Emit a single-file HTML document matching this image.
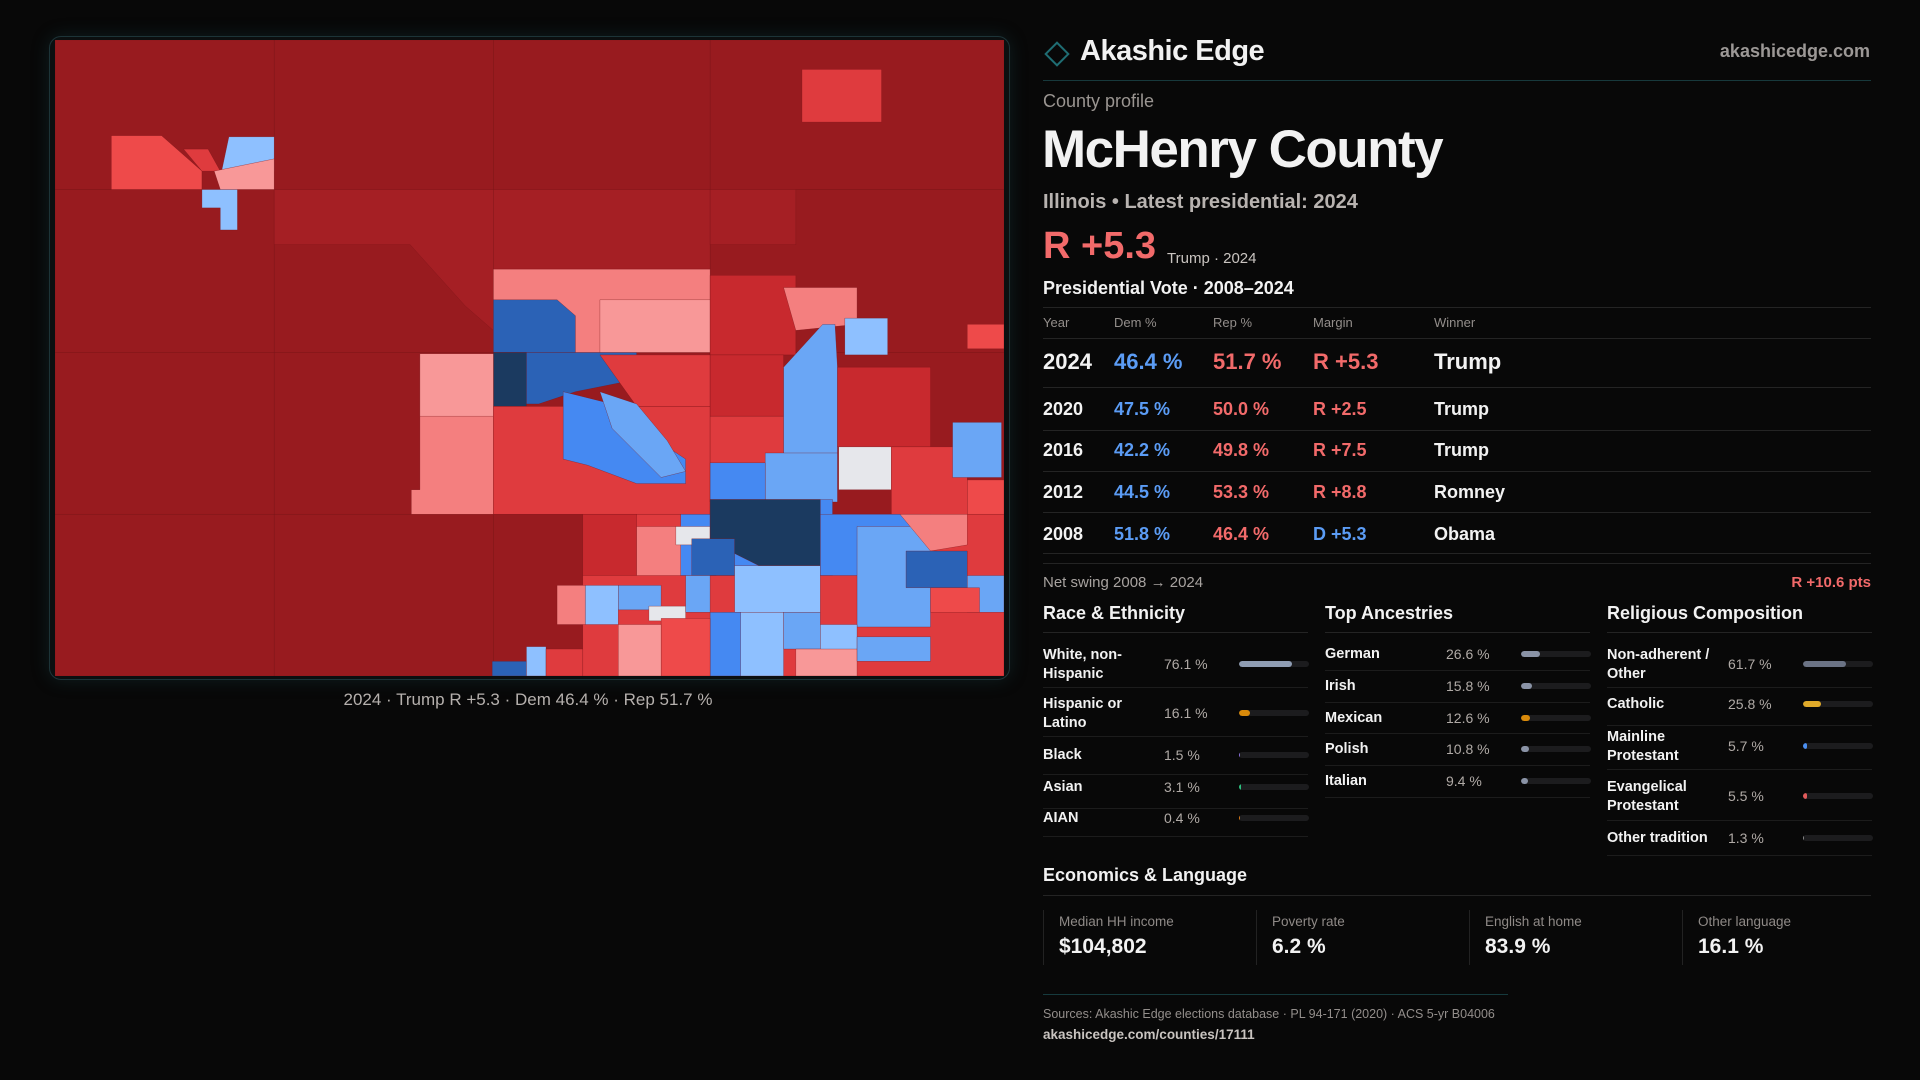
<!DOCTYPE html>
<html><head><meta charset="utf-8">
<style>
*{margin:0;padding:0;box-sizing:border-box}
body{width:1920px;height:1080px;background:#080808;font-family:"Liberation Sans",sans-serif;color:#f2f2f2;position:relative;overflow:hidden}
.a{position:absolute;white-space:nowrap}
.hl{position:absolute;height:1px;background:#242424}
.mut{color:#a8a3a0}
.blue{color:#5b9cf5}.red{color:#f26a6a}
.row{position:absolute;left:1043px;width:828px}
.row span{position:absolute;top:0}
</style></head><body>
<div class="a" style="left:49px;top:36px;width:961px;height:644px;border:1px solid #1d3438;border-radius:12px;box-shadow:0 0 18px rgba(30,90,100,0.25);overflow:hidden;background:#0b0f10">
<svg width="949" height="636" viewBox="45 33 775 519" preserveAspectRatio="none" style="position:absolute;left:5px;top:3px">
<g id="mapg" stroke="#7a1418" stroke-width="0.25"></g>
</svg>
</div>
<div class="a mut" style="left:0;width:1056px;text-align:center;top:690px;font-size:17px;color:#b5b0ad">2024 · Trump R +5.3 · Dem 46.4 % · Rep 51.7 %</div>

<svg class="a" style="left:1043px;top:40px" width="28" height="28" viewBox="0 0 28 28"><rect x="6" y="6" width="16" height="16" transform="rotate(45 14 14)" fill="none" stroke="#1f6d73" stroke-width="2"/></svg>
<div class="a" style="left:1080px;top:35px;font-size:29px;font-weight:bold;letter-spacing:-0.5px">Akashic Edge</div>
<div class="a mut" style="right:50px;top:41px;font-size:18px;font-weight:bold;color:#9c9896">akashicedge.com</div>
<div class="hl" style="left:1043px;width:828px;top:80px;background:#17393c"></div>
<div class="a mut" style="left:1043px;top:91px;font-size:18px;color:#9a9591">County profile</div>
<div class="a" style="left:1042px;top:119px;font-size:53px;font-weight:bold;letter-spacing:-1.5px">McHenry County</div>
<div class="a" style="left:1043px;top:191px;font-size:20px;font-weight:bold;color:#b8b3b0">Illinois • Latest presidential: 2024</div>
<div class="a red" style="left:1043px;top:225px;font-size:38px;font-weight:bold">R +5.3</div>
<div class="a" style="left:1167px;top:250px;font-size:15px;color:#c9c4c0">Trump · 2024</div>
<div class="a" style="left:1043px;top:278px;font-size:18px;font-weight:bold">Presidential Vote · 2008–2024</div>
<div class="hl" style="left:1043px;width:828px;top:307px"></div>
<div class="row" style="top:315px;font-size:13px;color:#938e8b"><span style="left:0">Year</span><span style="left:71px">Dem %</span><span style="left:170px">Rep %</span><span style="left:270px">Margin</span><span style="left:391px">Winner</span></div>
<div class="hl" style="left:1043px;width:828px;top:338px"></div>
<div class="row" style="top:349px;font-size:22px;font-weight:bold"><span style="left:0">2024</span><span class="blue" style="left:71px">46.4 %</span><span class="red" style="left:170px">51.7 %</span><span class="red" style="left:270px">R +5.3</span><span style="left:391px">Trump</span></div>
<div class="hl" style="left:1043px;width:828px;top:387px"></div>
<div class="row" style="top:399px;font-size:18px;font-weight:bold"><span style="left:0">2020</span><span class="blue" style="left:71px">47.5 %</span><span class="red" style="left:170px">50.0 %</span><span class="red" style="left:270px">R +2.5</span><span style="left:391px">Trump</span></div>
<div class="hl" style="left:1043px;width:828px;top:430px"></div>
<div class="row" style="top:440px;font-size:18px;font-weight:bold"><span style="left:0">2016</span><span class="blue" style="left:71px">42.2 %</span><span class="red" style="left:170px">49.8 %</span><span class="red" style="left:270px">R +7.5</span><span style="left:391px">Trump</span></div>
<div class="hl" style="left:1043px;width:828px;top:471px"></div>
<div class="row" style="top:482px;font-size:18px;font-weight:bold"><span style="left:0">2012</span><span class="blue" style="left:71px">44.5 %</span><span class="red" style="left:170px">53.3 %</span><span class="red" style="left:270px">R +8.8</span><span style="left:391px">Romney</span></div>
<div class="hl" style="left:1043px;width:828px;top:512px"></div>
<div class="row" style="top:524px;font-size:18px;font-weight:bold"><span style="left:0">2008</span><span class="blue" style="left:71px">51.8 %</span><span class="red" style="left:170px">46.4 %</span><span class="blue" style="left:270px">D +5.3</span><span style="left:391px">Obama</span></div>
<div class="hl" style="left:1043px;width:828px;top:553px"></div>
<div class="hl" style="left:1043px;width:828px;top:563px"></div>
<div class="a" style="left:1043px;top:574px;font-size:15px;color:#a8a3a0">Net swing 2008 → 2024</div>
<div class="a red" style="right:49px;top:574px;font-size:15px;font-weight:bold">R +10.6 pts</div>

<div class="a" style="left:1043px;top:603px;font-size:18px;font-weight:bold">Race &amp; Ethnicity</div>
<div class="a" style="left:1325px;top:603px;font-size:18px;font-weight:bold">Top Ancestries</div>
<div class="a" style="left:1607px;top:603px;font-size:18px;font-weight:bold">Religious Composition</div>
<div id="tables"></div>

<div class="a" style="left:1043px;top:865px;font-size:18px;font-weight:bold">Economics &amp; Language</div>
<div class="hl" style="left:1043px;width:828px;top:895px"></div>
<div id="stats"></div>
<div class="hl" style="left:1043px;width:465px;top:994px;background:#163a3d"></div>
<div class="a" style="left:1043px;top:1007px;font-size:12.5px;color:#938e8b">Sources: Akashic Edge elections database · PL 94-171 (2020) · ACS 5-yr B04006</div>
<div class="a" style="left:1043px;top:1027px;font-size:13.5px;font-weight:bold;color:#c9c4c0">akashicedge.com/counties/17111</div>

<script>
const raceLabels=["White, non-<br>Hispanic","Hispanic or<br>Latino","Black","Asian","AIAN"];
const raceValues=[76.1,16.1,1.5,3.1,0.4];
const raceColors=["#8f9db3","#d98a0a","#8a70d8","#2cc07e","#d97a1a"];
const ancLabels=["German","Irish","Mexican","Polish","Italian"];
const ancValues=[26.6,15.8,12.6,10.8,9.4];
const ancColors=["#8a93a6","#8a93a6","#d98a0a","#8a93a6","#8a93a6"];
const relLabels=["Non-adherent /<br>Other","Catholic","Mainline<br>Protestant","Evangelical<br>Protestant","Other tradition"];
const relValues=[61.7,25.8,5.7,5.5,1.3];
const relColors=["#6b7385","#e0aa2a","#4a8ef0","#e05a5a","#8a8a8a"];
const statLabels=["Median HH income","Poverty rate","English at home","Other language"];
const statValues=["$104,802","6.2 %","83.9 %","16.1 %"];

function table(x0,labels,values,colors,centers,lines,name){
  const T=document.getElementById('tables');
  const top=document.createElement('div');top.className='hl';
  
  
  top.style.cssText=`left:${x0}px;width:265px;top:632px`;T.appendChild(top);
  labels.forEach((l,i)=>{
    const c=centers[i];
    const lab=document.createElement('div');lab.className='a';
    
    
    const two=l.includes('<br>');
    lab.style.cssText=`left:${x0}px;top:${c-(two?18:9)}px;font-size:14.5px;font-weight:bold;line-height:19px`;
    lab.innerHTML=l;T.appendChild(lab);
    const v=document.createElement('div');v.className='a';
    
    
    v.style.cssText=`left:${x0+121}px;top:${c-8}px;font-size:14px;color:#b0aaa6`;
    v.textContent=values[i].toFixed(1)+' %';T.appendChild(v);
    const tr=document.createElement('div');tr.className='a';
    
    
    tr.style.cssText=`left:${x0+196}px;top:${c-3}px;width:70px;height:6px;border-radius:3px;background:#1c1c1e;overflow:hidden`;
    const f=document.createElement('div');
    
    
    f.style.cssText=`width:${Math.max(1,values[i]/100*70)}px;height:6px;border-radius:3px;background:${colors[i]}`;
    tr.appendChild(f);T.appendChild(tr);
    const ln=document.createElement('div');ln.className='hl';
    
    
    ln.style.cssText=`left:${x0}px;width:265px;top:${lines[i]}px;background:#1c1c1c`;T.appendChild(ln);
  });
}
table(1043,raceLabels,raceValues,raceColors,[664,713,755,787,818],[687,736,774,808,836],'race');
table(1325,ancLabels,ancValues,ancColors,[654,686,718,749,781],[670,702,733,765,797],'ancestry');
table(1607,relLabels,relValues,relColors,[664,704,746,796,838],[687,725,769,820,855],'religion');

const S=document.getElementById('stats');
statLabels.forEach((l,i)=>{
  const x=1043+i*213;
  const b=document.createElement('div');b.className='a';
  
  
  b.style.cssText=`left:${x}px;top:910px;width:200px;height:55px;border-left:1px solid #222`;
  b.innerHTML=`<div style="position:absolute;left:15px;top:4px;font-size:13.5px;color:#8f8a87">${l}</div><div style="position:absolute;left:15px;top:25px;font-size:21px;font-weight:bold">${statValues[i]}</div>`;
  S.appendChild(b);
});

const DR="#981b1f",R2="#a51f24",R3="#c8292e",R4="#df3b3e",R5="#ee4a4a",P1="#f47f7f",P2="#f89898",LB="#8ec0ff",B1="#6aa6f5",B2="#4589f2",B3="#2b62b6",NV="#1b3a60",W="#e6e7eb";
const shapes=[
[DR,"45,33 820,33 820,552 45,552"],
[R2,"224,155 403,155 403,270 380,250 335,200 224,200"],
[R2,"403,155 580,155 580,220 403,220"],
[R2,"580,155 650,155 650,200 580,200"],
[R4,"655,57 720,57 720,100 655,100"],
[R5,"91,111 132,111 165,140 165,155 91,155"],
[R4,"150,122 170,122 180,140 165,140"],
[LB,"187,112 224,112 224,140 180,145"],
[P2,"175,140 224,130 224,155 180,155"],
[LB,"165,155 194,155 194,188 180,188 180,170 165,170"],
[P1,"403,220 580,220 580,288 403,288"],
[P2,"490,245 580,245 580,288 490,288"],
[B3,"403,245 455,245 470,258 470,288 403,288"],
[B3,"403,288 520,288 520,310 470,320 440,330 425,330 403,332"],
[NV,"403,288 430,288 430,332 403,332"],
[P1,"343,289 403,289 403,420 336,420 336,400 343,400"],
[P2,"343,289 403,289 403,340 343,340"],
[R4,"403,332 580,332 580,420 403,420"],
[R4,"490,290 580,290 580,332 520,332"],
[B2,"460,320 500,330 530,355 560,375 560,395 520,395 480,380 460,375"],
[B1,"490,320 520,330 545,360 560,385 540,390 520,370 500,350"],
[R3,"580,225 650,225 650,290 580,290"],
[P1,"640,235 700,235 700,265 650,270"],
[LB,"690,260 725,260 725,290 690,290"],
[R5,"790,265 820,265 820,285 790,285"],
[R3,"580,290 640,290 640,340 580,340"],
[R4,"580,340 640,340 640,410 580,410"],
[B1,"640,300 672,265 682,265 684,300 684,395 640,400"],
[B1,"625,370 684,370 684,410 625,410"],
[B2,"580,378 625,378 625,410 580,410"],
[R3,"684,300 760,300 760,365 684,365"],
[W,"685,365 728,365 728,400 685,400"],
[R4,"728,365 790,365 790,420 728,420"],
[B1,"778,345 818,345 818,390 778,390"],
[R5,"790,392 820,392 820,420 790,420"],
[R4,"476,420 820,420 820,552 476,552"],
[R3,"476,420 520,420 520,470 476,470"],
[P1,"520,430 560,430 560,470 520,470"],
[B2,"556,420 585,420 585,470 556,470"],
[W,"552,430 580,430 580,445 552,445"],
[B2,"580,408 680,408 680,470 580,470"],
[NV,"580,408 670,408 670,462 620,462 600,452 580,440"],
[B3,"565,440 600,440 600,470 565,470"],
[LB,"600,462 670,462 670,500 600,500"],
[B2,"670,420 760,420 760,470 670,470"],
[B1,"700,430 760,430 760,512 700,512"],
[P1,"735,420 790,420 790,445 760,450"],
[B3,"740,450 790,450 790,480 740,480"],
[B1,"790,470 820,470 820,500 790,500"],
[R5,"760,480 800,480 800,500 760,500"],
[LB,"590,500 640,500 640,552 590,552"],
[B2,"580,500 605,500 605,552 580,552"],
[B1,"640,500 670,500 670,530 640,530"],
[LB,"670,510 700,510 700,540 670,540"],
[P2,"650,530 700,530 700,552 650,552"],
[B1,"700,520 760,520 760,540 700,540"],
[LB,"478,478 505,478 505,510 478,510"],
[B1,"505,478 540,478 540,498 505,498"],
[W,"530,495 560,495 560,507 530,507"],
[P1,"455,478 478,478 478,510 455,510"],
[R5,"540,505 580,505 580,552 540,552"],
[P2,"505,510 540,510 540,552 505,552"],
[B1,"560,470 580,470 580,500 560,500"],
[B3,"402,540 430,540 430,552 402,552"],
[LB,"430,528 446,528 446,552 430,552"],
[R4,"446,530 476,530 476,552 446,552"]
];
const g=document.getElementById('mapg');
shapes.forEach(s=>{
  const p=document.createElementNS('http://www.w3.org/2000/svg','polygon');
  p.setAttribute('points',s[1]);p.setAttribute('fill',s[0]);
  
  
  g.appendChild(p);
});
[[224,33,224,552],[403,33,403,552],[580,33,580,552],[45,155,820,155],[45,288,820,288],[45,420,820,420]].forEach(l=>{
  const e=document.createElementNS('http://www.w3.org/2000/svg','line');
  e.setAttribute('x1',l[0]);e.setAttribute('y1',l[1]);e.setAttribute('x2',l[2]);e.setAttribute('y2',l[3]);
  e.setAttribute('stroke','#7a1418');e.setAttribute('stroke-width','0.4');
  
  
  g.insertBefore(e,g.children[1]);
});
</script>
</body></html>
